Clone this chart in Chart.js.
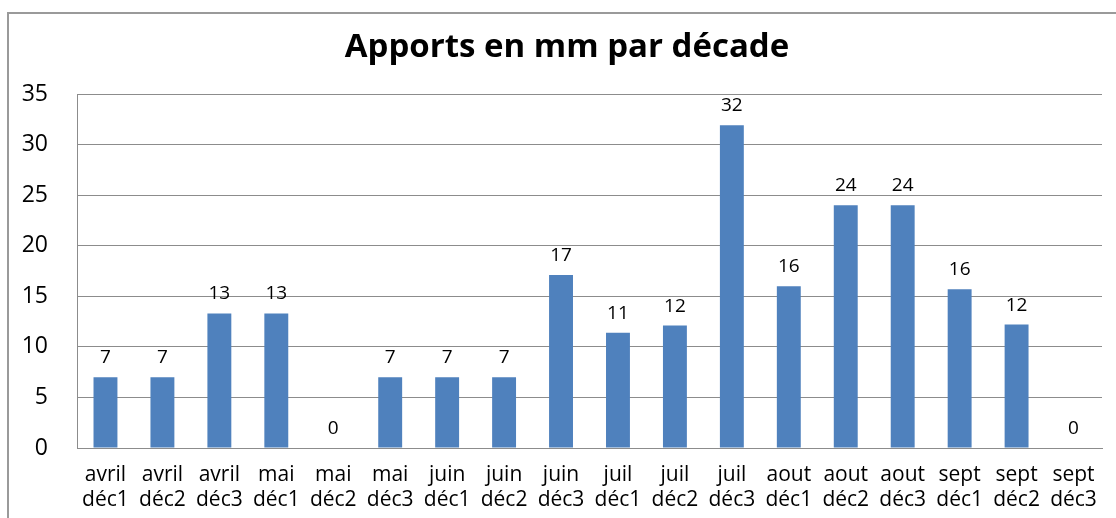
<!DOCTYPE html>
<html>
<head>
<meta charset="utf-8">
<script src="https://cdn.jsdelivr.net/npm/chart.js@4"></script>
<style>
  html, body { margin: 0; padding: 0; background: #fff; overflow: hidden; }
  #wrap { position: relative; width: 1116px; height: 518px; }
  #frame { position: absolute; left: 7px; top: 12px; width: 1200px; height: 600px; border: 2px solid #9a9a9a; }
  canvas { position: absolute; left: 0; top: 0; }
</style>
</head>
<body>
<div id="wrap">
  <div id="frame"></div>
  <canvas id="myChart" width="1116" height="518"></canvas>
</div>
<script>
const months = ['avril', 'avril', 'avril', 'mai', 'mai', 'mai', 'juin', 'juin', 'juin',
  'juil', 'juil', 'juil', 'aout', 'aout', 'aout', 'sept', 'sept', 'sept'];
const decades = ['déc1', 'déc2', 'déc3', 'déc1', 'déc2', 'déc3', 'déc1', 'déc2', 'déc3',
  'déc1', 'déc2', 'déc3', 'déc1', 'déc2', 'déc3', 'déc1', 'déc2', 'déc3'];
const apports = [7, 7, 13.3, 13.3, 0, 7, 7, 7, 17.1, 11.4, 12.1, 31.9, 16, 24, 24, 15.7, 12.2, 0];
const yTicks = [0, 5, 10, 15, 20, 25, 30, 35];
const titleText = 'Apports en mm par décade';

const labels = months.map((m, i) => [m, decades[i]]);
const fontName = '"Open Sans", sans-serif';

// value labels above bars (no datalabels plugin here)
const barValues = {
  id: 'barValues',
  afterDatasetsDraw(chart) {
    const c = chart.ctx;
    const meta = chart.getDatasetMeta(0);
    c.save();
    c.font = '19px ' + fontName;
    c.fillStyle = '#000';
    c.textAlign = 'center';
    c.textBaseline = 'alphabetic';
    meta.data.forEach((bar, i) => {
      c.fillText(Math.round(apports[i]).toString(), bar.x, bar.y - 14);
    });
    c.restore();
  }
};

// the built-in title only reserves the space; draw it a bit right of centre like the original
const shiftedTitle = {
  id: 'shiftedTitle',
  afterDraw(chart) {
    const tb = chart.titleBlock;
    const c = chart.ctx;
    c.save();
    c.font = 'bold 33px ' + fontName;
    c.fillStyle = '#000';
    c.textAlign = 'center';
    c.textBaseline = 'middle';
    c.fillText(titleText, chart.width / 2 + 9, tb.top + 28 + 33 * 1.2 / 2);
    c.restore();
  }
};

const ctx = document.getElementById('myChart');

new Chart(ctx, {
  type: 'bar',
  data: {
    labels: labels,
    datasets: [{
      label: 'Apports',
      data: apports,
      backgroundColor: '#4f81bd',
      borderWidth: 0,
      barPercentage: 0.42,
      categoryPercentage: 1
    }]
  },
  options: {
    responsive: false,
    animation: false,
    layout: { padding: { left: 0, right: 14, top: 0, bottom: 0 } },
    plugins: {
      legend: { display: false },
      tooltip: { enabled: false },
      title: {
        display: true,
        text: titleText,
        color: 'rgba(0,0,0,0)',
        font: { family: fontName, size: 33, weight: 'bold', lineHeight: 1.2 },
        padding: { top: 28, bottom: 26.4 }
      }
    },
    scales: {
      x: {
        grid: { display: false, drawTicks: false },
        border: { display: true, color: '#8c8c8c', width: 1 },
        ticks: {
          color: '#000',
          font: { family: fontName, size: 21, lineHeight: 1.2 },
          padding: 14,
          maxRotation: 0,
          autoSkip: false
        },
        afterFit(scale) { scale.height = 70; }
      },
      y: {
        min: 0,
        max: 35,
        afterBuildTicks(scale) { scale.ticks = yTicks.map(v => ({ value: v })); },
        grid: { color: '#8c8c8c', drawTicks: false },
        border: { display: true, color: '#8c8c8c', width: 1 },
        ticks: {
          color: '#000',
          font: { family: fontName, size: 23 },
          padding: 29
        },
        afterFit(scale) { scale.width = 77; }
      }
    }
  },
  plugins: [barValues, shiftedTitle]
});
</script>
</body>
</html>
